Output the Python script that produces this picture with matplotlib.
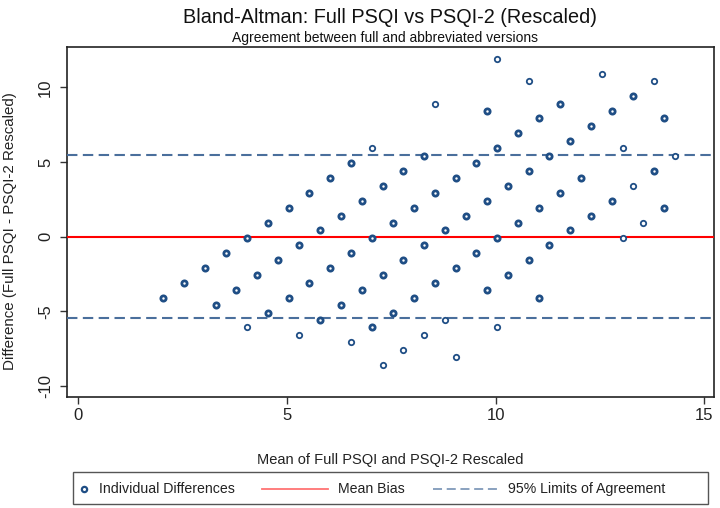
import numpy as np
import matplotlib
matplotlib.use("Agg")
import matplotlib.pyplot as plt
from matplotlib.lines import Line2D
from matplotlib.patches import Rectangle

plt.rcParams['font.family'] = ['Liberation Sans', 'DejaVu Sans']
plt.rcParams['axes.unicode_minus'] = False

# Values, grouped by diagonal row
# (mean of the two scores, difference Full - PSQI-2, number of overlapping subjects)
mean_vals = [
    2.04, 2.54, 3.04, 3.54, 4.04, 4.54, 5.04, 5.54, 6.04, 6.54, 7.04, 8.54, 10.04,
    3.29, 3.79, 4.29, 4.79, 5.29, 5.79, 6.29, 6.79, 7.29, 7.79, 8.29, 9.79, 10.79,
    4.04, 4.54, 5.04, 5.54, 6.04, 6.54, 7.04, 7.54, 8.04, 8.54, 9.04, 9.54, 10.04,
    10.54, 11.04, 11.54, 12.54,
    5.29, 5.79, 6.29, 6.79, 7.29, 7.79, 8.29, 8.79, 9.29, 9.79, 10.29, 10.79, 11.29,
    11.79, 12.29, 12.79, 13.29, 13.79,
    6.54, 7.04, 7.54, 8.04, 8.54, 9.04, 9.54, 10.04, 10.54, 11.04, 11.54, 12.04,
    13.04, 14.04,
    7.29, 7.79, 8.29, 8.79, 9.79, 10.29, 10.79, 11.29, 11.79, 12.29, 12.79, 13.29,
    13.79, 14.29,
    9.04, 10.04, 11.04, 13.04, 13.54, 14.04,
]
diff_vals = [
    -4.08, -3.08, -2.08, -1.08, -0.08, 0.92, 1.92, 2.92, 3.92, 4.92, 5.92, 8.92, 11.92,
    -4.58, -3.58, -2.58, -1.58, -0.58, 0.42, 1.42, 2.42, 3.42, 4.42, 5.42, 8.42, 10.42,
    -6.08, -5.08, -4.08, -3.08, -2.08, -1.08, -0.08, 0.92, 1.92, 2.92, 3.92, 4.92, 5.92,
    6.92, 7.92, 8.92, 10.92,
    -6.58, -5.58, -4.58, -3.58, -2.58, -1.58, -0.58, 0.42, 1.42, 2.42, 3.42, 4.42, 5.42,
    6.42, 7.42, 8.42, 9.42, 10.42,
    -7.08, -6.08, -5.08, -4.08, -3.08, -2.08, -1.08, -0.08, 0.92, 1.92, 2.92, 3.92,
    5.92, 7.92,
    -8.58, -7.58, -6.58, -5.58, -3.58, -2.58, -1.58, -0.58, 0.42, 1.42, 2.42, 3.42,
    4.42, 5.42,
    -8.08, -6.08, -4.08, -0.08, 0.92, 1.92,
]
counts = [
    2, 2, 2, 2, 2, 2, 2, 2, 2, 2, 1, 1, 1,
    2, 2, 2, 2, 2, 2, 2, 2, 2, 2, 2, 2, 1,
    1, 2, 2, 2, 2, 2, 2, 2, 2, 2, 2, 2, 2, 2, 2, 2, 1,
    1, 2, 2, 2, 2, 2, 2, 2, 2, 2, 2, 2, 2, 2, 2, 2, 2, 1,
    1, 2, 2, 2, 2, 2, 2, 2, 2, 2, 2, 2, 1, 2,
    1, 1, 1, 1, 2, 2, 2, 2, 2, 2, 2, 1, 2, 1,
    1, 1, 2, 1, 1, 2,
]

mean_bias = 0.0
loa_upper = 5.47
loa_lower = -5.46

x_ticks = [0, 5, 10, 15]
y_ticks = [-10, -5, 0, 5, 10]

marker_col = '#1f4e85'
loa_col = '#4a6f9c'

mean_arr = np.array(mean_vals)
diff_arr = np.array(diff_vals)
cnt_arr = np.array(counts)

fig = plt.figure(figsize=(7.2, 5.08), dpi=100)
ax = fig.add_axes([0.093, 0.2185, 0.8986, 0.689])

multi = cnt_arr > 1
ax.plot(mean_arr[multi], diff_arr[multi], 'o', ms=3.8, mew=2.0, mfc='white',
        mec=marker_col, ls='none', zorder=4)
ax.plot(mean_arr[~multi], diff_arr[~multi], 'o', ms=3.9, mew=1.3, mfc='white',
        mec=marker_col, ls='none', zorder=4)

ax.axhline(mean_bias, color='#ff0000', lw=1.5, zorder=3)
for v in (loa_upper, loa_lower):
    ax.axhline(v, color=loa_col, lw=1.5, dashes=(5, 2.6), zorder=3)

ax.set_xlim(-0.27, 15.23)
ax.set_ylim(-10.74, 12.71)
ax.set_xticks(x_ticks)
ax.set_yticks(y_ticks)
ax.tick_params(axis='both', direction='out', length=5, width=1, colors='#333333',
               labelsize=12, labelcolor='#222222')
ax.tick_params(axis='x', pad=3)
ax.tick_params(axis='y', pad=5)
for lab in ax.get_yticklabels():
    lab.set_rotation(90)
    lab.set_va('center')
for sp in ax.spines.values():
    sp.set_color('#222222')
    sp.set_linewidth(1.2)

ax.set_xlabel('Mean of Full PSQI and PSQI-2 Rescaled', fontsize=10.5, color='#222222')
ax.xaxis.set_label_coords(0.5, -0.16)
fig.text(0.0135, 0.5443, 'Difference (Full PSQI - PSQI-2 Rescaled)', rotation=90,
         ha='center', va='center', fontsize=10.9, color='#222222')

fig.text(0.541, 0.966, 'Bland-Altman: Full PSQI vs PSQI-2 (Rescaled)', ha='center',
         va='center', fontsize=14.3, color='#111111')
fig.text(0.535, 0.925, 'Agreement between full and abbreviated versions', ha='center',
         va='center', fontsize=10.0, color='#111111')

# legend box drawn by hand so the marker sits close to its label like the original
ly = 0.0374
fig.patches.append(Rectangle((0.101, 0.0079), 0.8824, 0.0636, transform=fig.transFigure,
                             fill=False, ec='#555555', lw=1.0))
fig.lines.append(Line2D([0.1167], [ly], transform=fig.transFigure, marker='o', ms=3.8,
                        mew=1.6, mfc='white', mec=marker_col, ls='none'))
fig.text(0.138, ly, 'Individual Differences', va='center', fontsize=10.2, color='#222222')
fig.lines.append(Line2D([0.3639, 0.4556], [ly, ly], transform=fig.transFigure,
                        color='#ff0000', alpha=0.55, lw=1.3))
fig.text(0.4694, ly, 'Mean Bias', va='center', fontsize=10.2, color='#222222')
fig.lines.append(Line2D([0.601, 0.6944], [ly, ly], transform=fig.transFigure,
                        color=loa_col, alpha=0.7, lw=1.3, dashes=(5, 2.6)))
fig.text(0.7056, ly, '95% Limits of Agreement', va='center', fontsize=10.2, color='#222222')

fig.savefig('out.png', dpi=100)
